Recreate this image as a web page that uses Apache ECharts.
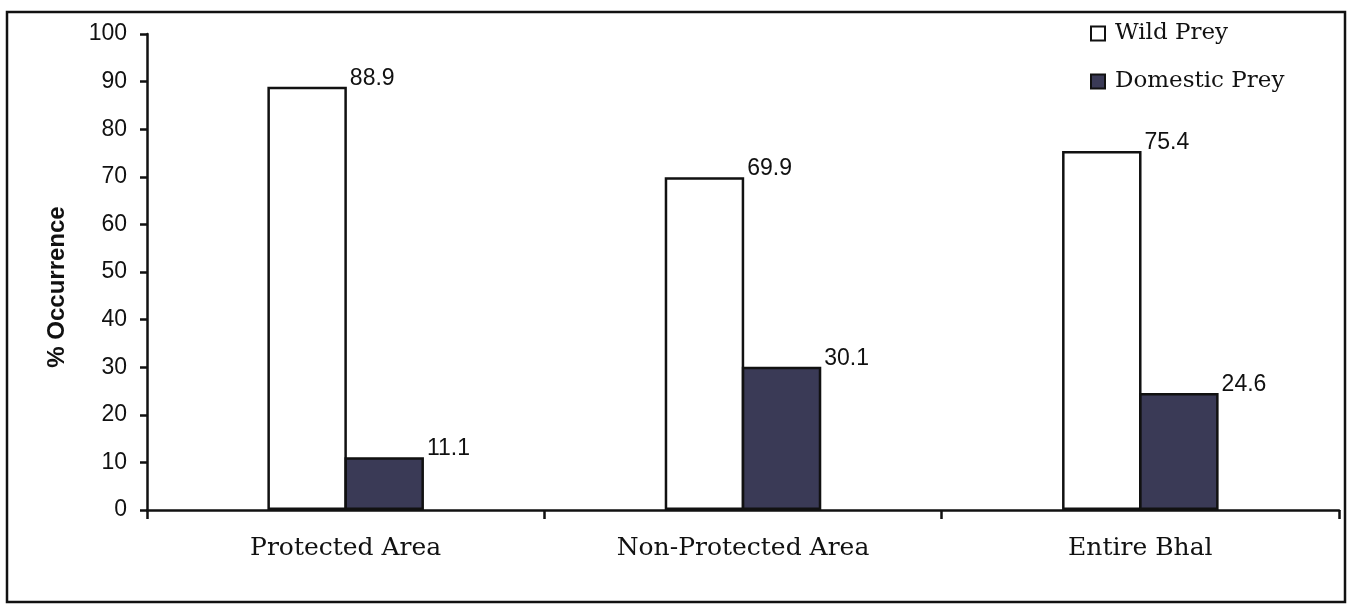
<!DOCTYPE html>
<html>
<head>
<meta charset="utf-8">
<script src="https://cdn.jsdelivr.net/npm/echarts@6/dist/echarts.min.js"></script>
<style>
  html, body { margin: 0; padding: 0; background: #fff; }
  #chart { width: 1350px; height: 606px; }
</style>
</head>
<body>
<div id="chart"></div>
<script>
// Prey occurrence by area
const categories = ['Protected Area', 'Non-Protected Area', 'Entire Bhal'];
const wildPrey = [88.9, 69.9, 75.4];
const domesticPrey = [11.1, 30.1, 24.6];
const yTicks = [0, 10, 20, 30, 40, 50, 60, 70, 80, 90, 100];

const chart = echarts.init(document.getElementById('chart'));

const sansFont = "Arial, 'Liberation Sans', sans-serif";
const serifFont = "'DejaVu Serif', serif";

const valueLabel = {
  show: true,
  position: ['100%', 0],
  offset: [3, -20],
  align: 'left',
  verticalAlign: 'top',
  color: '#111',
  fontFamily: sansFont,
  fontSize: 23,
  formatter: p => p.value.toFixed(1)
};

chart.setOption({
  backgroundColor: '#fff',
  animation: false,
  graphic: [{
    type: 'rect',
    shape: { x: 7, y: 12, width: 1338, height: 590 },
    style: { fill: 'none', stroke: '#111', lineWidth: 2.5 },
    silent: true
  }],
  legend: {
    orient: 'vertical',
    left: 1085,
    top: 17,
    icon: 'rect',
    itemWidth: 14,
    itemHeight: 14,
    itemGap: 25,
    textStyle: {
      fontFamily: serifFont,
      fontSize: 23,
      color: '#111',
      padding: [0, 0, 0, 5]
    },
    data: ['Wild Prey', 'Domestic Prey']
  },
  grid: { left: 147, right: 11, top: 34, bottom: 96, containLabel: false },
  xAxis: {
    type: 'category',
    data: categories,
    boundaryGap: true,
    axisLine: { lineStyle: { color: '#111', width: 2.5 } },
    axisTick: { show: true, length: 9, alignWithLabel: false, lineStyle: { color: '#111', width: 2.5 } },
    axisLabel: {
      margin: 26,
      color: '#111',
      fontFamily: serifFont,
      fontSize: 25
    }
  },
  yAxis: {
    type: 'value',
    min: yTicks[0],
    max: yTicks[yTicks.length - 1],
    interval: 10,
    name: '% Occurrence',
    nameLocation: 'middle',
    nameGap: 78,
    nameRotate: 90,
    nameTextStyle: {
      fontFamily: sansFont,
      fontWeight: 'bold',
      fontSize: 24,
      color: '#111',
      padding: [0, 30, 0, 0]
    },
    splitLine: { show: false },
    axisLine: { show: true, lineStyle: { color: '#111', width: 2.5 } },
    axisTick: { show: true, length: 7, lineStyle: { color: '#111', width: 2.5 } },
    axisLabel: {
      margin: 20,
      color: '#111',
      fontFamily: sansFont,
      fontSize: 23
    }
  },
  series: [
    {
      name: 'Wild Prey',
      type: 'bar',
      data: wildPrey,
      barWidth: '20%',
      barGap: '-3%',
      itemStyle: { color: '#ffffff', borderColor: '#111', borderWidth: 2.5 },
      label: valueLabel
    },
    {
      name: 'Domestic Prey',
      type: 'bar',
      data: domesticPrey,
      barWidth: '20%',
      barGap: '-3%',
      itemStyle: { color: '#3a3a56', borderColor: '#111', borderWidth: 2.5 },
      label: valueLabel
    }
  ]
});
</script>
</body>
</html>
